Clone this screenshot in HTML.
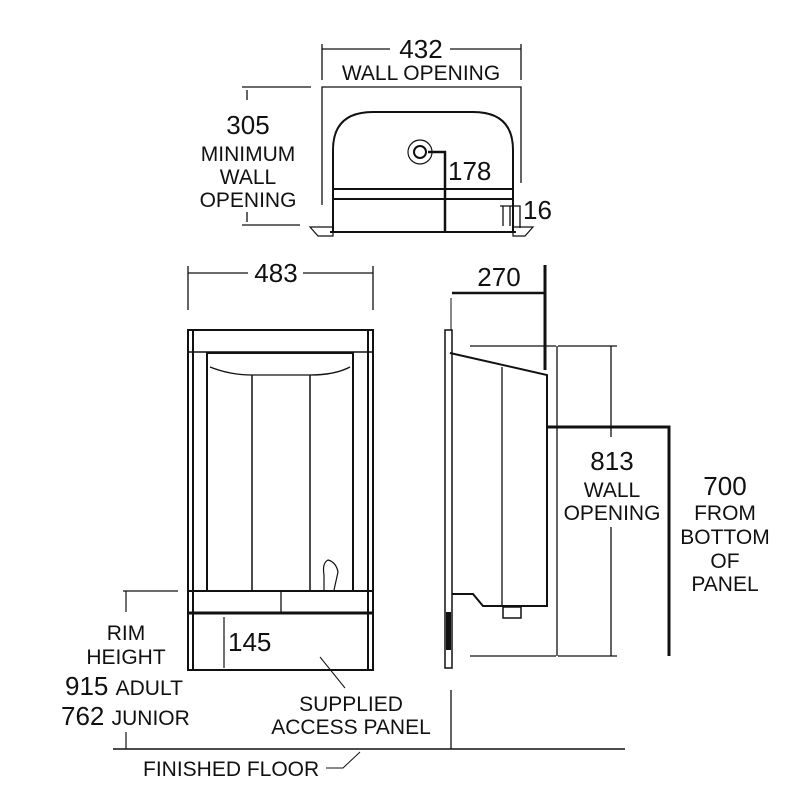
<!DOCTYPE html>
<html><head><style>body{margin:0;background:#fff}svg{display:block}text{font-family:"Liberation Sans",sans-serif;fill:#111}</style></head>
<body>
<svg width="800" height="800" viewBox="0 0 800 800" xmlns="http://www.w3.org/2000/svg" stroke="#111" fill="none">
<!-- TOP VIEW -->
<g stroke-width="1.3">
<line x1="322" y1="44" x2="322" y2="80"/><line x1="521" y1="44" x2="521" y2="80"/>
<line x1="322" y1="49" x2="390" y2="49"/><line x1="450" y1="49" x2="521" y2="49"/>
<path d="M322 205 V87 H521 V183"/>
<line x1="242" y1="87" x2="311" y2="87"/><line x1="242" y1="225" x2="300" y2="225"/>
<line x1="247" y1="90" x2="247" y2="100"/><line x1="247" y1="212" x2="247" y2="222"/>
</g>
<path d="M333 190 V150 Q333 112 373 112 H473 Q513 112 513 150 V190" stroke-width="2"/>
<rect x="333" y="189" width="180" height="10" stroke-width="2"/>
<line x1="333" y1="199" x2="333" y2="232" stroke-width="2"/><line x1="513" y1="199" x2="513" y2="232" stroke-width="2"/>
<line x1="330" y1="232" x2="516" y2="232" stroke-width="2"/>
<path d="M310 227 L333 227 L333 236 L318 236 Z" stroke-width="1.2"/>
<path d="M513 227 L533 227 L525 236 L513 236 Z" stroke-width="1.2"/>
<circle cx="420" cy="152" r="12" stroke-width="1.2"/><circle cx="420" cy="152" r="6" stroke-width="2"/>
<path d="M428 152 H445 V232" stroke-width="2.5"/>
<path d="M500 206 H520 V228 M503 206 V226 M510 206 V226" stroke-width="1.3"/>
<text x="421" y="58" font-size="26" text-anchor="middle" stroke="none">432</text>
<text x="421" y="80" font-size="21" text-anchor="middle" stroke="none">WALL OPENING</text>
<text x="248" y="134" font-size="26" text-anchor="middle" stroke="none">305</text>
<text x="248" y="161" font-size="21" text-anchor="middle" stroke="none">MINIMUM</text>
<text x="248" y="184" font-size="21" text-anchor="middle" stroke="none">WALL</text>
<text x="248" y="207" font-size="21" text-anchor="middle" stroke="none">OPENING</text>
<text x="448" y="180" font-size="26" stroke="none">178</text>
<text x="523" y="219" font-size="26" stroke="none">16</text>

<!-- FRONT VIEW -->
<g stroke-width="1.3">
<line x1="188" y1="266" x2="188" y2="310"/><line x1="373" y1="266" x2="373" y2="310"/>
<line x1="188" y1="273" x2="248" y2="273"/><line x1="303" y1="273" x2="373" y2="273"/>
</g>
<text x="276" y="282" font-size="26" text-anchor="middle" stroke="none">483</text>
<rect x="188" y="330" width="185" height="340" stroke-width="2"/>
<line x1="193" y1="330" x2="193" y2="670" stroke-width="2"/><line x1="368" y1="330" x2="368" y2="670" stroke-width="2"/>
<line x1="188" y1="352" x2="373" y2="352" stroke-width="1.5"/>
<rect x="207" y="353" width="146" height="238" stroke-width="2"/>
<path d="M210 367 Q230 375 252 375 H310 Q335 375 350 367" stroke-width="1.3"/>
<line x1="252" y1="375" x2="252" y2="591" stroke-width="1.5"/><line x1="310" y1="375" x2="310" y2="591" stroke-width="1.5"/>
<line x1="188" y1="591" x2="373" y2="591" stroke-width="2"/>
<line x1="188" y1="613" x2="373" y2="613" stroke-width="3"/>
<line x1="281" y1="591" x2="281" y2="613" stroke-width="1.3"/>
<path d="M324 590 L324 575 Q322 563 328 560 Q336 562 338 572 L334 590" stroke-width="1.2"/>
<line x1="224" y1="617" x2="224" y2="668" stroke-width="1.2"/>
<text x="228" y="651" font-size="26" stroke="none">145</text>
<line x1="320" y1="657" x2="345" y2="688" stroke-width="1"/>
<line x1="123" y1="591" x2="178" y2="591" stroke-width="1.2"/>
<line x1="126" y1="591" x2="126" y2="612" stroke-width="1.2"/>
<line x1="126" y1="732" x2="126" y2="749" stroke-width="1.2"/>
<line x1="113" y1="749" x2="625" y2="749" stroke-width="1.5"/>
<line x1="451" y1="690" x2="451" y2="749" stroke-width="1.3"/>
<path d="M326 768 H343 L360 752" stroke-width="1"/>
<text x="126" y="640" font-size="21" text-anchor="middle" stroke="none">RIM</text>
<text x="126" y="664" font-size="21" text-anchor="middle" stroke="none">HEIGHT</text>
<text x="65" y="695" font-size="26" stroke="none">915 <tspan font-size="21">ADULT</tspan></text>
<text x="61" y="725" font-size="26" stroke="none">762 <tspan font-size="21">JUNIOR</tspan></text>
<text x="351" y="711" font-size="21" text-anchor="middle" stroke="none">SUPPLIED</text>
<text x="351" y="734" font-size="21" text-anchor="middle" stroke="none">ACCESS PANEL</text>
<text x="143" y="776" font-size="21" stroke="none">FINISHED FLOOR</text>

<!-- SIDE VIEW -->
<path d="M452 293 H545" stroke-width="2.5"/>
<line x1="545" y1="265" x2="545" y2="370" stroke-width="3"/>
<line x1="451" y1="298" x2="451" y2="330" stroke-width="1"/>
<text x="499" y="286" font-size="26" text-anchor="middle" stroke="none">270</text>
<rect x="445" y="330" width="7" height="338" stroke-width="1.5"/>
<rect x="446" y="612" width="5" height="38" fill="#111" stroke="none"/>
<path d="M450 353 L547 375 V606 H483 L473 594 H452" stroke-width="2"/>
<line x1="502" y1="367" x2="502" y2="606" stroke-width="1.3"/>
<rect x="503" y="607" width="18" height="11" stroke-width="1.5"/>
<path d="M547 427 H669 V656" stroke-width="3"/>
<g stroke-width="1.3">
<line x1="470" y1="346" x2="556" y2="346"/><line x1="558" y1="346" x2="617" y2="346"/>
<line x1="470" y1="656" x2="556" y2="656"/><line x1="558" y1="656" x2="617" y2="656"/>
<line x1="557" y1="346" x2="557" y2="656"/>
<line x1="611" y1="346" x2="611" y2="437"/><line x1="611" y1="527" x2="611" y2="656"/>
</g>
<text x="612" y="470" font-size="26" text-anchor="middle" stroke="none">813</text>
<text x="612" y="497" font-size="21" text-anchor="middle" stroke="none">WALL</text>
<text x="612" y="520" font-size="21" text-anchor="middle" stroke="none">OPENING</text>
<text x="725" y="495" font-size="26" text-anchor="middle" stroke="none">700</text>
<text x="725" y="520" font-size="21" text-anchor="middle" stroke="none">FROM</text>
<text x="725" y="544" font-size="21" text-anchor="middle" stroke="none">BOTTOM</text>
<text x="725" y="568" font-size="21" text-anchor="middle" stroke="none">OF</text>
<text x="725" y="591" font-size="21" text-anchor="middle" stroke="none">PANEL</text>
</svg>
</body></html>
